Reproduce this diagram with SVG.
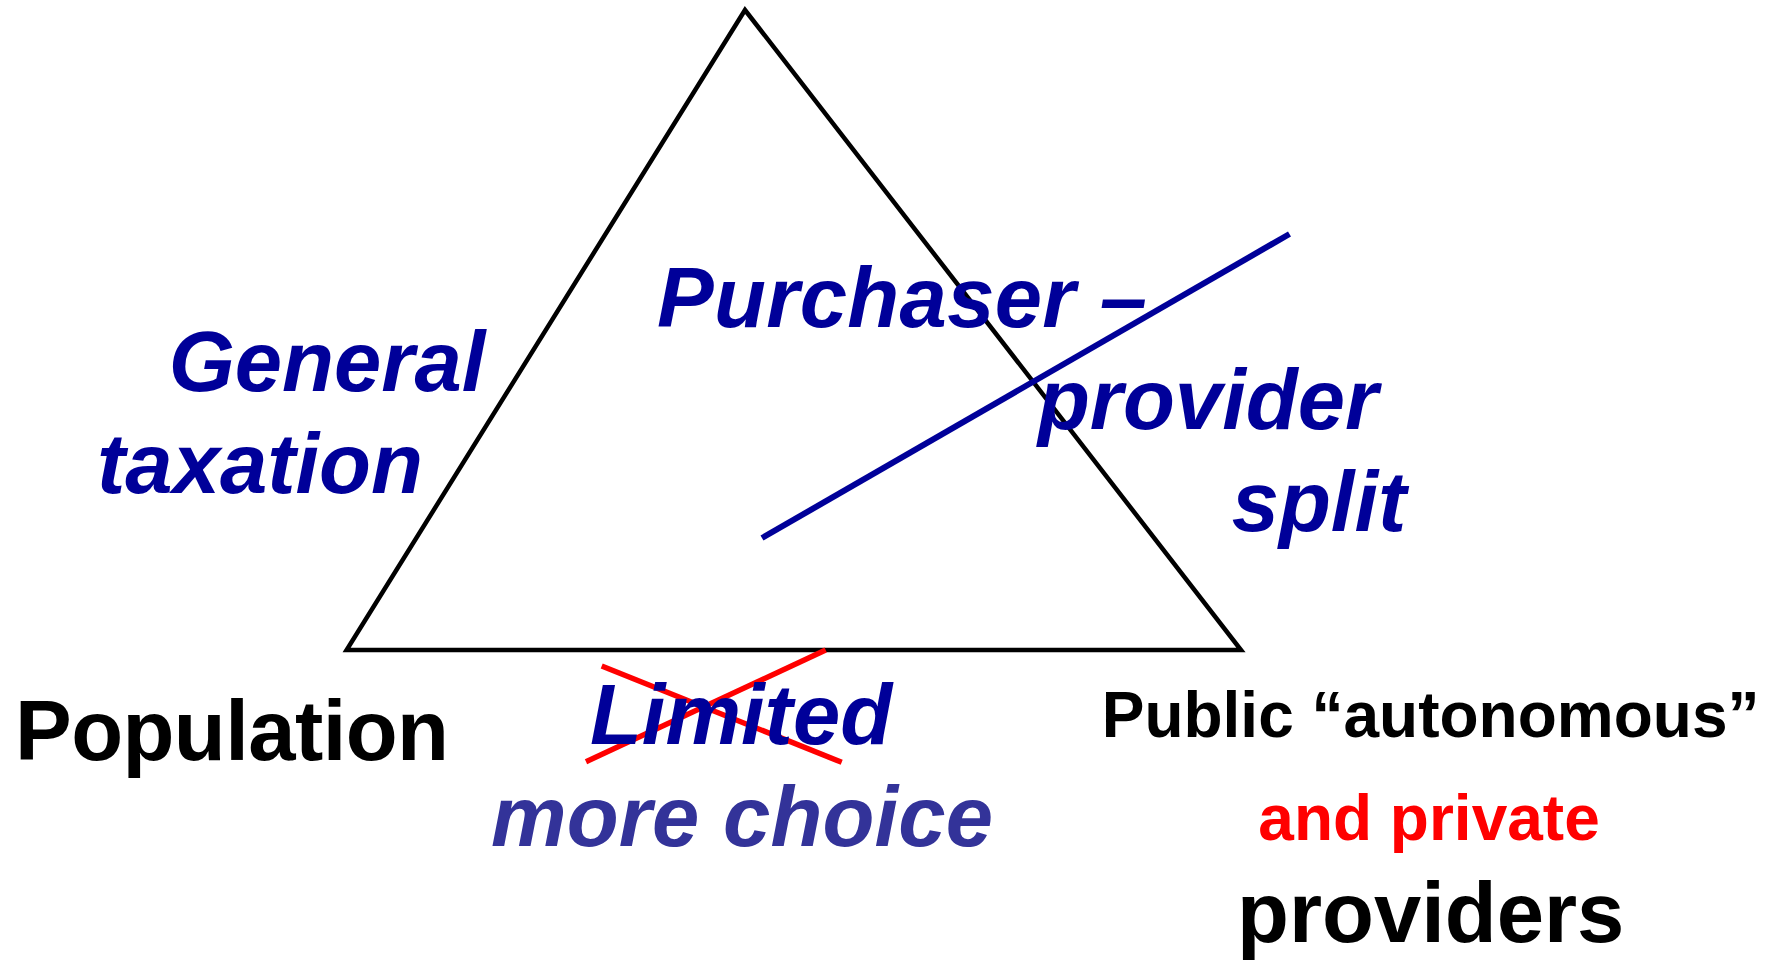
<svg xmlns="http://www.w3.org/2000/svg" width="1776" height="960" viewBox="0 0 1776 960">
<style>
.t{font-family:"Liberation Sans",Arial,sans-serif;font-weight:bold;text-anchor:middle}
.bi{font-style:italic;fill:#000099;font-size:85px}
.k{fill:#000000}
</style>
<rect width="1776" height="960" fill="#ffffff"/>
<g id="triangle">
<polygon points="745,10 346.6,650 1241,650" fill="none" stroke="#000000" stroke-width="4.5" stroke-linejoin="miter"/>
</g>
<g id="connectors">
<line x1="762" y1="538" x2="1289.5" y2="234" stroke="#000099" stroke-width="6"/>
<line x1="601.7" y1="666" x2="841.7" y2="762.3" stroke="#ff0000" stroke-width="5.5"/>
<line x1="586" y1="761.7" x2="825.7" y2="650" stroke="#ff0000" stroke-width="5.5"/>
</g>
<g id="general-taxation">
<text class="t bi" x="327" y="391">General</text>
<text class="t bi" x="260" y="493">taxation</text>
</g>
<g id="purchaser-provider-split">
<text class="t bi" x="902" y="327" textLength="490">Purchaser –</text>
<text class="t bi" x="1208" y="429">provider</text>
<text class="t bi" x="1319" y="531">split</text>
</g>
<g id="population">
<text class="t k" x="232" y="760" font-size="85" textLength="434">Population</text>
</g>
<g id="choice">
<text class="t bi" x="741" y="744">Limited</text>
<text class="t" x="742" y="846" font-size="85" font-style="italic" fill="#333399" textLength="502">more choice</text>
</g>
<g id="providers">
<text class="t k" x="1430.6" y="737" font-size="64">Public “autonomous”</text>
<text class="t" x="1429" y="840" font-size="64" fill="#ff0000">and private</text>
<text class="t k" x="1430.7" y="942" font-size="85">providers</text>
</g>
</svg>
